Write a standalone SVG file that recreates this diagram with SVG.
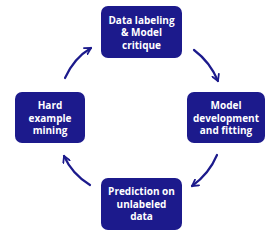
<svg xmlns="http://www.w3.org/2000/svg" width="272" height="234" viewBox="0 0 272 234">
<defs>
<marker id="ah" viewBox="0 0 10 10" refX="8" refY="5" markerWidth="4" markerHeight="4" orient="auto" markerUnits="strokeWidth">
<path d="M1,1 L8,5 L1,9" fill="none" stroke="#1c1a8c" stroke-width="2" stroke-linecap="round" stroke-linejoin="round"/>
</marker>
<style>
.box{fill:#1c1a8c}
.t{fill:#fff;font-family:"Open Sans",sans-serif;font-weight:bold;font-size:10px;text-anchor:middle}
.c{fill:none;stroke:#1c1a8c;stroke-width:2.2;stroke-linecap:round;marker-end:url(#ah)}
</style>
</defs>
<rect width="272" height="234" fill="#fff"/>
<g id="n1"><rect class="box" x="101" y="6" width="81" height="52" rx="7"/>
<text class="t" x="141.5" y="23.5">Data labeling</text><text class="t" x="141.5" y="36">&amp; Model</text><text class="t" x="141.5" y="48.5">critique</text></g>
<g id="n2"><rect class="box" x="187" y="92" width="78" height="51" rx="7"/>
<text class="t" x="226" y="109">Model</text><text class="t" x="226" y="121.5">development</text><text class="t" x="226" y="134">and fitting</text></g>
<g id="n3"><rect class="box" x="101" y="178" width="81" height="52" rx="7"/>
<text class="t" x="141.5" y="195">Prediction on</text><text class="t" x="141.5" y="207.5">unlabeled</text><text class="t" x="141.5" y="220">data</text></g>
<g id="n4"><rect class="box" x="15" y="92" width="70" height="51" rx="7"/>
<text class="t" x="50" y="109">Hard</text><text class="t" x="50" y="121.5">example</text><text class="t" x="50" y="134">mining</text></g>
<g id="connectors">
<path class="c" d="M194,50 Q210,62 218,81"/>
<path class="c" d="M217,155 Q209,174 192,186"/>
<path class="c" d="M90,185 Q72,174 64,156"/>
<path class="c" d="M65,78 Q74,58 91,48"/>
</g>
</svg>
